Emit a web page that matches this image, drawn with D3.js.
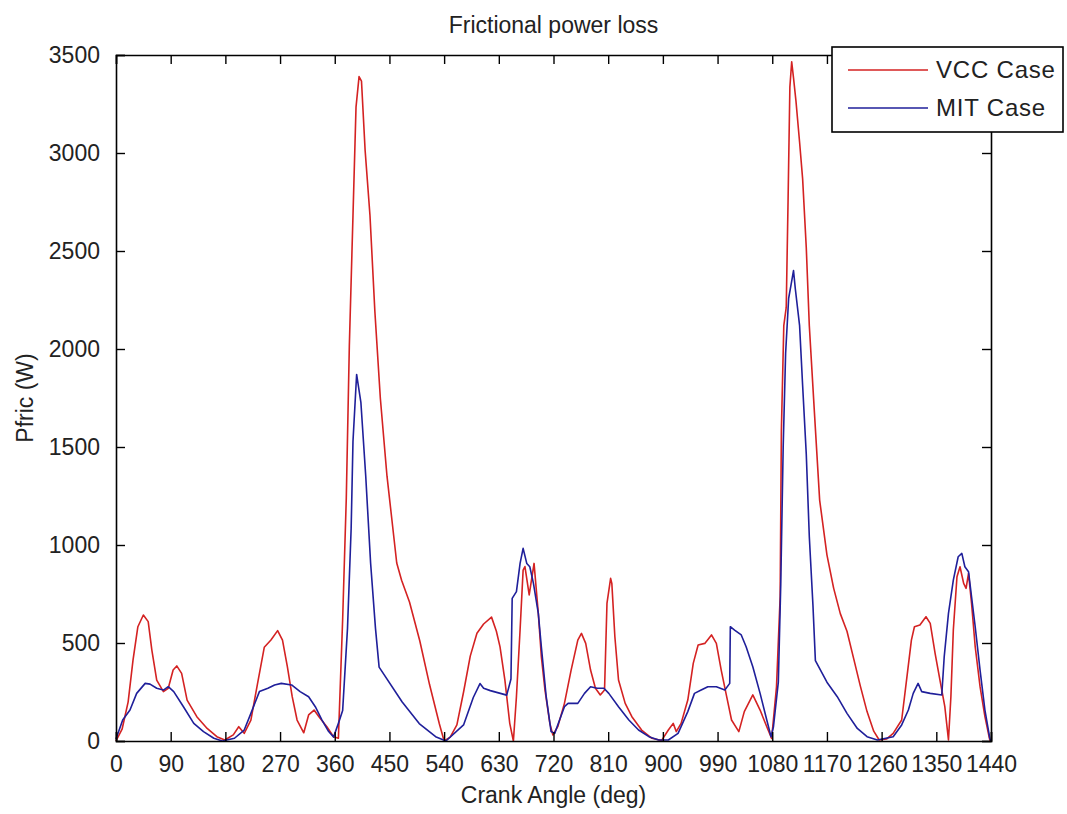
<!DOCTYPE html>
<html>
<head>
<meta charset="utf-8">
<script src="https://cdn.jsdelivr.net/npm/d3@7"></script>
<style>
  html, body { margin: 0; padding: 0; background: #fff; }
  svg text { font-family: "Liberation Sans", Arial, sans-serif; fill: #222; }
</style>
</head>
<body>
<svg id="chart" width="1067" height="814"></svg>
<script>
// ---- data ----
const chartTitle = "Frictional power loss";
const xLabel = "Crank Angle (deg)";
const yLabel = "Pfric (W)";
const seriesNames = ["VCC Case", "MIT Case"];
const xTicks = [0, 90, 180, 270, 360, 450, 540, 630, 720, 810, 900, 990, 1080, 1170, 1260, 1350, 1440];
const yTicks = [0, 500, 1000, 1500, 2000, 2500, 3000, 3500];

const vccAngle = [0, 10, 20, 28, 36, 45, 53, 59, 67, 78, 86, 94, 100, 108, 117, 133, 150, 166, 179, 193, 202, 211, 222, 233, 244, 255, 266, 274, 282, 290, 298, 309, 317, 326, 334, 347, 358, 366, 373, 379, 384, 390, 395, 400, 404, 410, 418, 426, 435, 446, 454, 462, 470, 483, 500, 516, 532, 540, 550, 561, 572, 583, 594, 605, 618, 626, 632, 640, 648, 654, 659, 665, 670, 673, 680, 688, 695, 700, 706, 714, 719, 727, 738, 749, 760, 766, 773, 781, 789, 797, 804, 808, 814, 816, 821, 827, 838, 849, 865, 882, 898, 909, 917, 922, 930, 941, 950, 958, 969, 980, 988, 996, 1005, 1013, 1025, 1034, 1048, 1060, 1071, 1079, 1087, 1093, 1095, 1099, 1103, 1106, 1109, 1112, 1115, 1119, 1125, 1130, 1136, 1141, 1149, 1158, 1170, 1181, 1192, 1203, 1214, 1225, 1236, 1247, 1256, 1268, 1279, 1293, 1301, 1309, 1314, 1323, 1333, 1340, 1348, 1356, 1364, 1370, 1374, 1378, 1384, 1389, 1395, 1399, 1403, 1408, 1414, 1422, 1430, 1438, 1440];
const vccPower = [0, 60, 200, 413, 583, 643, 609, 464, 311, 252, 269, 362, 383, 345, 209, 124, 64, 22, 5, 31, 73, 39, 107, 294, 478, 515, 563, 515, 379, 226, 107, 42, 133, 158, 124, 73, 22, 14, 620, 1240, 2016, 2680, 3234, 3390, 3367, 3013, 2680, 2193, 1750, 1351, 1130, 908, 820, 709, 510, 288, 89, 0, 20, 82, 250, 433, 550, 597, 632, 560, 480, 311, 90, 0, 226, 566, 872, 890, 745, 906, 651, 430, 260, 90, 31, 73, 192, 362, 515, 549, 498, 362, 269, 235, 260, 702, 830, 804, 532, 311, 192, 124, 56, 14, 3, 56, 90, 48, 90, 209, 396, 490, 498, 541, 498, 362, 226, 107, 48, 150, 235, 158, 73, 13, 277, 736, 1580, 2119, 2212, 2751, 3336, 3465, 3383, 3266, 3055, 2868, 2517, 2119, 1697, 1229, 950, 780, 650, 560, 420, 280, 150, 50, 5, 10, 39, 107, 311, 515, 583, 592, 634, 600, 447, 311, 175, 5, 226, 566, 838, 889, 804, 779, 855, 702, 481, 277, 124, 5, 0];

const mitAngle = [0, 11, 23, 34, 48, 56, 67, 78, 86, 95, 111, 128, 144, 161, 175, 195, 211, 222, 236, 250, 261, 272, 289, 303, 317, 328, 339, 350, 358, 366, 373, 381, 387, 390, 396, 403, 411, 419, 427, 433, 471, 499, 526, 543, 572, 588, 599, 605, 616, 643, 650, 652, 659, 665, 670, 676, 681, 687, 695, 700, 708, 716, 722, 730, 738, 744, 760, 771, 781, 792, 803, 811, 827, 844, 860, 877, 893, 909, 925, 941, 952, 963, 974, 988, 1002, 1010, 1011, 1018, 1029, 1037, 1048, 1060, 1071, 1078, 1082, 1090, 1094, 1098, 1102, 1107, 1111, 1115, 1118, 1125, 1130, 1136, 1141, 1147, 1151, 1170, 1187, 1203, 1220, 1236, 1253, 1279, 1293, 1304, 1312, 1320, 1326, 1340, 1359, 1363, 1370, 1378, 1386, 1392, 1397, 1403, 1408, 1414, 1422, 1430, 1438, 1440];
const mitPower = [10, 107, 158, 243, 294, 290, 269, 260, 277, 252, 175, 90, 48, 14, 0, 14, 56, 141, 252, 269, 286, 294, 286, 252, 226, 175, 107, 48, 20, 90, 155, 576, 1085, 1528, 1870, 1728, 1351, 908, 576, 377, 199, 89, 22, 0, 82, 222, 293, 269, 257, 234, 316, 728, 762, 906, 983, 906, 889, 804, 651, 481, 226, 48, 39, 107, 175, 192, 192, 243, 277, 269, 269, 243, 175, 107, 56, 22, 5, 5, 39, 150, 243, 260, 277, 277, 260, 294, 583, 566, 541, 481, 379, 243, 107, 22, 73, 300, 800, 1500, 1978, 2259, 2329, 2400, 2306, 2119, 1814, 1463, 1042, 691, 410, 300, 226, 141, 64, 22, 5, 22, 82, 158, 243, 294, 252, 243, 235, 430, 651, 821, 940, 957, 889, 864, 736, 583, 362, 158, 14, 0];

const seriesColors = ["#d42222", "#1f1f9a"];

// ---- drawing ----
const svg = d3.select("#chart");
const W = 1067, H = 814;
const m = { left: 116, right: W - 991, top: 55, bottom: H - 741 };
const iw = W - m.left - m.right, ih = H - m.top - m.bottom;

svg.append("rect").attr("width", W).attr("height", H).attr("fill", "#fff");

const x = d3.scaleLinear().domain([0, 1440]).range([m.left, m.left + iw]);
const y = d3.scaleLinear().domain([0, 3500]).range([m.top + ih, m.top]);

const fs = 23;
const tickLen = 9;

// curves
const series = [
  { name: seriesNames[0], color: seriesColors[0], pts: vccAngle.map((a, i) => [a, vccPower[i]]) },
  { name: seriesNames[1], color: seriesColors[1], pts: mitAngle.map((a, i) => [a, mitPower[i]]) }
];
const line = d3.line().x(d => x(d[0])).y(d => y(d[1])).curve(d3.curveLinear);
const plot = svg.append("g");
series.forEach(s => {
  plot.append("path").attr("d", line(s.pts)).attr("fill", "none")
    .attr("stroke", s.color).attr("stroke-width", 1.6).attr("stroke-linejoin", "round");
});

// axes (inward ticks on all four sides)
const axB = svg.append("g").attr("transform", `translate(0,${m.top + ih})`)
  .call(d3.axisBottom(x).tickValues(xTicks).tickSize(-tickLen).tickPadding(tickLen + 6).tickFormat(d3.format("d")));
const axT = svg.append("g").attr("transform", `translate(0,${m.top})`)
  .call(d3.axisTop(x).tickValues(xTicks).tickSize(-tickLen).tickFormat(""));
const axL = svg.append("g").attr("transform", `translate(${m.left},0)`)
  .call(d3.axisLeft(y).tickValues(yTicks).tickSize(-tickLen).tickPadding(tickLen + 7).tickFormat(d3.format("d")));
const axR = svg.append("g").attr("transform", `translate(${m.left + iw},0)`)
  .call(d3.axisRight(y).tickValues(yTicks).tickSize(-tickLen).tickFormat(""));

[axB, axT, axL, axR].forEach(g => {
  g.select(".domain").attr("stroke", "#000").attr("stroke-width", 1.6);
  g.selectAll(".tick line").attr("stroke", "#000").attr("stroke-width", 1.4);
  g.selectAll("text").attr("font-size", fs).attr("fill", "#222")
    .style("font-family", "'Liberation Sans', Arial, sans-serif");
});

// title & labels
svg.append("text").attr("x", m.left + iw / 2).attr("y", 33).attr("text-anchor", "middle")
  .attr("font-size", fs).text(chartTitle);
svg.append("text").attr("x", m.left + iw / 2).attr("y", 803).attr("text-anchor", "middle")
  .attr("font-size", fs).text(xLabel);
svg.append("text").attr("transform", `translate(33,${m.top + ih / 2}) rotate(-90)`)
  .attr("text-anchor", "middle").attr("font-size", fs).text(yLabel);

// legend
const lg = svg.append("g");
lg.append("rect").attr("x", 832).attr("y", 47).attr("width", 231).attr("height", 85)
  .attr("fill", "#fff").attr("stroke", "#000").attr("stroke-width", 1.6);
series.forEach((s, i) => {
  const ly = 70 + i * 38;
  lg.append("line").attr("x1", 848).attr("x2", 928).attr("y1", ly).attr("y2", ly)
    .attr("stroke", s.color).attr("stroke-width", 1.6);
  lg.append("text").attr("x", 936).attr("y", ly + 8).attr("font-size", 24)
    .attr("letter-spacing", 0.8).text(s.name);
});
</script>
</body>
</html>
